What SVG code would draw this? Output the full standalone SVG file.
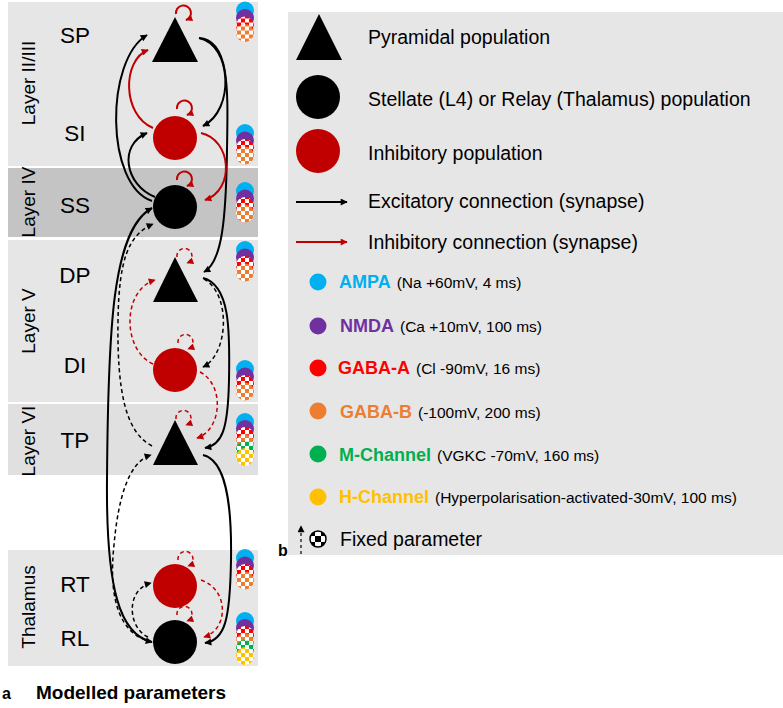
<svg xmlns="http://www.w3.org/2000/svg" width="783" height="708" viewBox="0 0 783 708">
<style>
text{font-family:"Liberation Sans",Arial,sans-serif;fill:#000}
.lay{font-size:19px}
.nl{font-size:22.5px;text-anchor:middle}
.lg{font-size:19.5px}
.ch{font-size:18px;font-weight:bold}
.cp{font-size:15.5px;font-weight:normal;fill:#000}
.ex{fill:none;stroke:#000;stroke-width:2}
.exd{fill:none;stroke:#000;stroke-width:1.5;stroke-dasharray:4 3}
.in{fill:none;stroke:#c00000;stroke-width:2}
.ind{fill:none;stroke:#c00000;stroke-width:1.5;stroke-dasharray:4 3}
.bg{fill:#e7e6e6}
</style>
<defs>
<marker id="ah" viewBox="0 0 10 10" refX="9" refY="5" markerWidth="8" markerHeight="7" markerUnits="userSpaceOnUse" orient="auto-start-reverse"><path d="M0,0 L10,5 L0,10 z" fill="#000"/></marker>
<marker id="ahr" viewBox="0 0 10 10" refX="9" refY="5" markerWidth="8" markerHeight="7" markerUnits="userSpaceOnUse" orient="auto"><path d="M0,0 L10,5 L0,10 z" fill="#c00000"/></marker>
<pattern id="chk" width="8" height="8" patternUnits="userSpaceOnUse"><rect x="0" y="0" width="4" height="4" fill="#fff"/><rect x="4" y="4" width="4" height="4" fill="#fff"/></pattern>
<g id="stack4">
<circle cx="0" cy="0" r="9" fill="#00b0f0"/>
<circle cx="0" cy="7.5" r="9" fill="#7030a0"/>
<circle cx="0" cy="15" r="9" fill="#ff0000"/><circle cx="0" cy="15" r="9" fill="url(#chk)"/>
<circle cx="0" cy="22.5" r="9" fill="#ed7d31"/><circle cx="0" cy="22.5" r="9" fill="url(#chk)"/>
</g>
<g id="stack6">
<circle cx="0" cy="0" r="9" fill="#00b0f0"/>
<circle cx="0" cy="7" r="9" fill="#7030a0"/>
<circle cx="0" cy="14" r="9" fill="#ff0000"/><circle cx="0" cy="14" r="9" fill="url(#chk)"/>
<circle cx="0" cy="21" r="9" fill="#ed7d31"/><circle cx="0" cy="21" r="9" fill="url(#chk)"/>
<circle cx="0" cy="28" r="9" fill="#00b050"/><circle cx="0" cy="28" r="9" fill="url(#chk)"/>
<circle cx="0" cy="35" r="9" fill="#ffc000"/><circle cx="0" cy="35" r="9" fill="url(#chk)"/>
</g>
<clipPath id="fpc"><circle cx="318" cy="539" r="8"/></clipPath>
</defs>

<g id="layers">
<rect x="8" y="2" width="250" height="164" class="bg"/>
<rect x="8" y="168" width="250" height="69" fill="#c4c4c4"/>
<rect x="8" y="240" width="250" height="162" class="bg"/>
<rect x="8" y="404" width="250" height="71" fill="#e0e0e0"/>
<rect x="8" y="550" width="250" height="116" class="bg"/>
<text class="lay" text-anchor="middle" transform="translate(35,83) rotate(-90)">Layer II/III</text>
<text class="lay" text-anchor="middle" transform="translate(35,202) rotate(-90)">Layer IV</text>
<text class="lay" text-anchor="middle" transform="translate(35,321) rotate(-90)">Layer V</text>
<text class="lay" text-anchor="middle" transform="translate(35,441) rotate(-90)">Layer VI</text>
<text class="lay" text-anchor="middle" transform="translate(35,607) rotate(-90)">Thalamus</text>
</g>

<g id="connectors">
<path class="ex" d="M152 201 C105 185,105 60,147 35" marker-end="url(#ah)"/>
<path class="ex" d="M155 197 C125 185,118 145,147 133" marker-end="url(#ah)"/>
<path class="ex" d="M199 38 C232 45,235 110,203 126" marker-end="url(#ah)"/>
<path class="ex" d="M199 38 C230 40,228 90,227 150 C226 220,222 262,204 272" marker-end="url(#ah)"/>
<path class="ex" d="M203 278 C230 285,230 330,229 380 C228 430,222 445,205 448" marker-end="url(#ah)"/>
<path class="ex" d="M203 455 C225 460,232 500,231 560 C230 620,225 640,205 643" marker-end="url(#ah)"/>
<path class="ex" d="M152 642 C120 635,106 590,107 480 C108 330,112 230,152 208" marker-start="url(#ah)" marker-end="url(#ah)"/>
<path class="exd" d="M152 446 C125 432,117 390,118 320 C119 260,128 235,153 224" marker-end="url(#ah)"/>
<path class="exd" d="M204 279 C232 295,228 355,203 367" marker-end="url(#ah)"/>
<path class="exd" d="M148 637 C128 628,125 590,151 583" marker-end="url(#ah)"/>
<path class="exd" d="M152 642 C120 635,108 600,114 545 C118 500,128 462,151 455" marker-end="url(#ah)"/>
<path class="in" d="M153 128 C122 115,122 60,148 50" marker-end="url(#ahr)"/>
<path class="in" d="M201 133 C232 140,235 190,205 200" marker-end="url(#ahr)"/>
<path class="in" d="M176 14 A7.5 7.5 0 1 1 186 20" marker-end="url(#ahr)"/>
<path class="in" d="M177 109 A7.5 7.5 0 1 1 187 115" marker-end="url(#ahr)"/>
<path class="in" d="M177 180 A7.5 7.5 0 1 1 187 186" marker-end="url(#ahr)"/>
<path class="ind" d="M153 364 C122 350,122 290,155 280" marker-end="url(#ahr)"/>
<path class="ind" d="M200 372 C225 385,222 430,197 438" marker-end="url(#ahr)"/>
<path class="ind" d="M201 580 C230 590,228 630,204 637" marker-end="url(#ahr)"/>
<path class="ind" d="M177 257 A7.5 7.5 0 1 1 187 263" marker-end="url(#ahr)"/>
<path class="ind" d="M178 343 A7.5 7.5 0 1 1 188 349" marker-end="url(#ahr)"/>
<path class="ind" d="M176 419 A7.5 7.5 0 1 1 186 425" marker-end="url(#ahr)"/>
<path class="ind" d="M178 560 A7.5 7.5 0 1 1 188 566" marker-end="url(#ahr)"/>
<path class="ind" d="M177 615 A7.5 7.5 0 1 1 187 621" marker-end="url(#ahr)"/>
</g>

<g id="node-SP"><polygon points="152,62 198,62 175,17" fill="#000"/><text class="nl" x="75" y="43">SP</text><use href="#stack4" x="245" y="10.5"/></g>
<g id="node-SI"><circle cx="175" cy="138" r="22" fill="#c00000"/><text class="nl" x="75" y="141">SI</text><use href="#stack4" x="245" y="133"/></g>
<g id="node-SS"><circle cx="175" cy="207" r="22" fill="#000"/><text class="nl" x="75" y="213">SS</text><use href="#stack4" x="245" y="191"/></g>
<g id="node-DP"><polygon points="153,302 198,302 175,257" fill="#000"/><text class="nl" x="75" y="283">DP</text><use href="#stack4" x="245" y="250"/></g>
<g id="node-DI"><circle cx="175" cy="370" r="22" fill="#c00000"/><text class="nl" x="75" y="373">DI</text><use href="#stack4" x="245" y="369"/></g>
<g id="node-TP"><polygon points="153,465 198,465 175,420" fill="#000"/><text class="nl" x="75" y="448">TP</text><use href="#stack6" x="245" y="422"/></g>
<g id="node-RT"><circle cx="175" cy="586" r="22" fill="#c00000"/><text class="nl" x="75" y="592">RT</text><use href="#stack4" x="245" y="558"/></g>
<g id="node-RL"><circle cx="175" cy="642" r="22" fill="#000"/><text class="nl" x="75" y="646">RL</text><use href="#stack6" x="245" y="621"/></g>

<g id="caption-a">
<text x="2" y="699" font-size="16" font-weight="bold">a</text>
<text x="36" y="699" font-size="19" font-weight="bold">Modelled parameters</text>
</g>

<g id="legend">
<rect x="288" y="12" width="495" height="543" class="bg"/>
<polygon points="296,60 342,60 319,14" fill="#000"/>
<text class="lg" x="368" y="44">Pyramidal population</text>
<circle cx="318" cy="97" r="22" fill="#000"/>
<text class="lg" x="368" y="106">Stellate (L4) or Relay (Thalamus) population</text>
<circle cx="318" cy="151" r="22" fill="#c00000"/>
<text class="lg" x="368" y="160">Inhibitory population</text>
<line x1="296" y1="202" x2="347" y2="202" class="ex" marker-end="url(#ah)"/>
<text class="lg" x="368" y="208">Excitatory connection (synapse)</text>
<line x1="296" y1="242" x2="347" y2="242" class="in" marker-end="url(#ahr)"/>
<text class="lg" x="368" y="249">Inhibitory connection (synapse)</text>

<circle cx="318" cy="282" r="8.5" fill="#00b0f0"/>
<text x="339" y="288"><tspan class="ch" style="fill:#00b0f0">AMPA</tspan><tspan class="cp" dx="6">(Na +60mV, 4 ms)</tspan></text>
<circle cx="318" cy="326" r="8.5" fill="#7030a0"/>
<text x="340" y="332"><tspan class="ch" style="fill:#7030a0">NMDA</tspan><tspan class="cp" dx="6">(Ca +10mV, 100 ms)</tspan></text>
<circle cx="318" cy="368" r="8.5" fill="#ff0000"/>
<text x="338" y="374"><tspan class="ch" style="fill:#ff0000">GABA-A</tspan><tspan class="cp" dx="6">(Cl -90mV, 16 ms)</tspan></text>
<circle cx="318" cy="411" r="8.5" fill="#ed7d31"/>
<text x="340" y="418"><tspan class="ch" style="fill:#ed7d31">GABA-B</tspan><tspan class="cp" dx="6">(-100mV, 200 ms)</tspan></text>
<circle cx="318" cy="454" r="8.5" fill="#00b050"/>
<text x="339" y="461"><tspan class="ch" style="fill:#00b050">M-Channel</tspan><tspan class="cp" dx="6">(VGKC -70mV, 160 ms)</tspan></text>
<circle cx="318" cy="497" r="8.5" fill="#ffc000"/>
<text x="339" y="503"><tspan class="ch" style="fill:#ffc000">H-Channel</tspan><tspan class="cp" dx="6">(Hyperpolarisation-activated-30mV, 100 ms)</tspan></text>

<line x1="301" y1="554" x2="301" y2="526" stroke="#000" stroke-width="1.2" stroke-dasharray="3 3" marker-end="url(#ah)"/>
<g clip-path="url(#fpc)">
<circle cx="318" cy="539" r="8" fill="#fff"/>
<rect x="309" y="530" width="6" height="6" fill="#000"/>
<rect x="321" y="530" width="6" height="6" fill="#000"/>
<rect x="315" y="536" width="6" height="6" fill="#000"/>
<rect x="309" y="542" width="6" height="6" fill="#000"/>
<rect x="321" y="542" width="6" height="6" fill="#000"/>
</g>
<circle cx="318" cy="539" r="8" fill="none" stroke="#000" stroke-width="1.5"/>
<text class="lg" x="340" y="546">Fixed parameter</text>
<text x="278" y="556" font-size="16" font-weight="bold">b</text>
</g>
</svg>
